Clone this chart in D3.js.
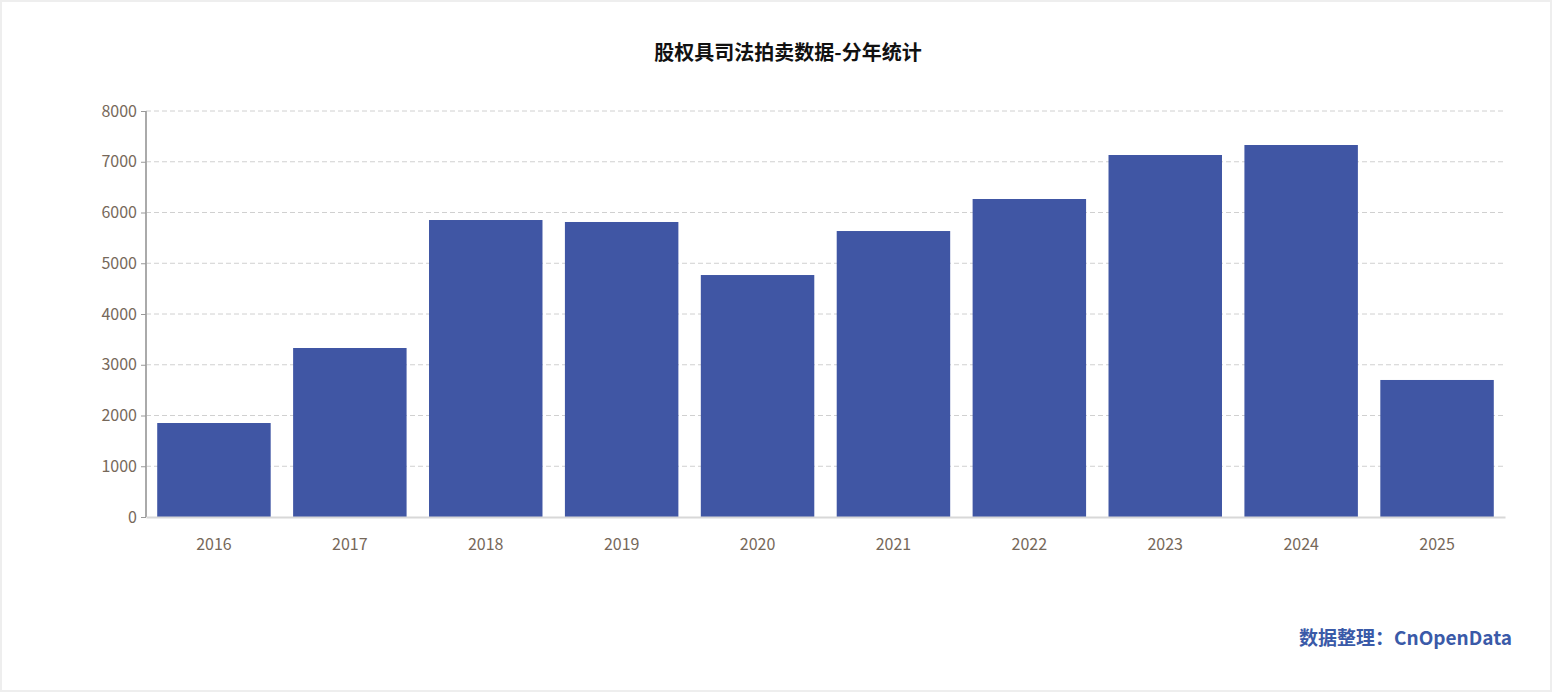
<!DOCTYPE html>
<html><head><meta charset="utf-8">
<script src="https://cdn.jsdelivr.net/npm/d3@7"></script>
<style>
body{margin:0;background:#fff}
svg{display:block}
</style></head>
<body><svg width="1552" height="692"></svg>
<script>
var years = ["2016","2017","2018","2019","2020","2021","2022","2023","2024","2025"];
var counts = [1852, 3330, 5852, 5813, 4768, 5635, 6266, 7133, 7330, 2700];
var yTicks = [0,1000,2000,3000,4000,5000,6000,7000,8000];

(function() {
var svg = d3.select("svg");
var font = "'Noto Sans CJK SC', 'Noto Sans', sans-serif";

// page frame
svg.append("rect").attr("x",1).attr("y",1).attr("width",1550).attr("height",690)
   .attr("fill","#fff").attr("stroke","#eeeeee").attr("stroke-width",2);

svg.append("text").attr("x",788).attr("y",60).attr("text-anchor","middle")
   .attr("font-family",font).attr("font-size","20px").attr("font-weight","bold")
   .attr("fill","#111").text("股权具司法拍卖数据-分年统计");

var left = 146, right = 1505, plotTop = 111, bottom = 517;
var x = d3.scaleBand().domain(years).range([left,right]).paddingInner(0.165).paddingOuter(0.0825);
var y = d3.scaleLinear().domain([0,8000]).range([bottom,plotTop]);

// grid
svg.append("g").selectAll("line").data(yTicks.slice(1)).enter().append("line")
   .attr("x1",left).attr("x2",right).attr("y1",function(d){return y(d);}).attr("y2",function(d){return y(d);})
   .attr("stroke","#d0d0d0").attr("stroke-dasharray","5,3");

svg.append("g").selectAll("rect").data(counts).enter().append("rect")
   .attr("x",function(d,i){return x(years[i]);})
   .attr("y",function(d){return y(d);})
   .attr("width",x.bandwidth())
   .attr("height",function(d){return bottom - y(d);})
   .attr("fill","#4056a4");

// y axis
var ya = svg.append("g").attr("transform","translate("+left+",0)")
   .call(d3.axisLeft(y).tickValues(yTicks).tickFormat(d3.format("d")).tickSize(5).tickPadding(4));
ya.select(".domain").attr("stroke","#aaa").attr("stroke-width",2).attr("d","M0,"+plotTop+"V"+bottom);
ya.selectAll(".tick line").attr("stroke","#999");
ya.selectAll("text").attr("font-family",font).attr("font-size","16px").attr("fill","#76685a");

// x axis
var xa = svg.append("g").attr("transform","translate(0,"+bottom+")")
   .call(d3.axisBottom(x).tickSize(0).tickPadding(22));
xa.select(".domain").attr("stroke","#d8d8d8").attr("stroke-width",2);
xa.selectAll("text").attr("font-family",font).attr("font-size","16px").attr("fill","#76685a");

svg.append("text").attr("x",1512).attr("y",645).attr("text-anchor","end")
   .attr("font-family",font).attr("font-size","19px").attr("font-weight","bold")
   .attr("fill","#3a5aa8").text("数据整理：CnOpenData");
})();
</script></body></html>
